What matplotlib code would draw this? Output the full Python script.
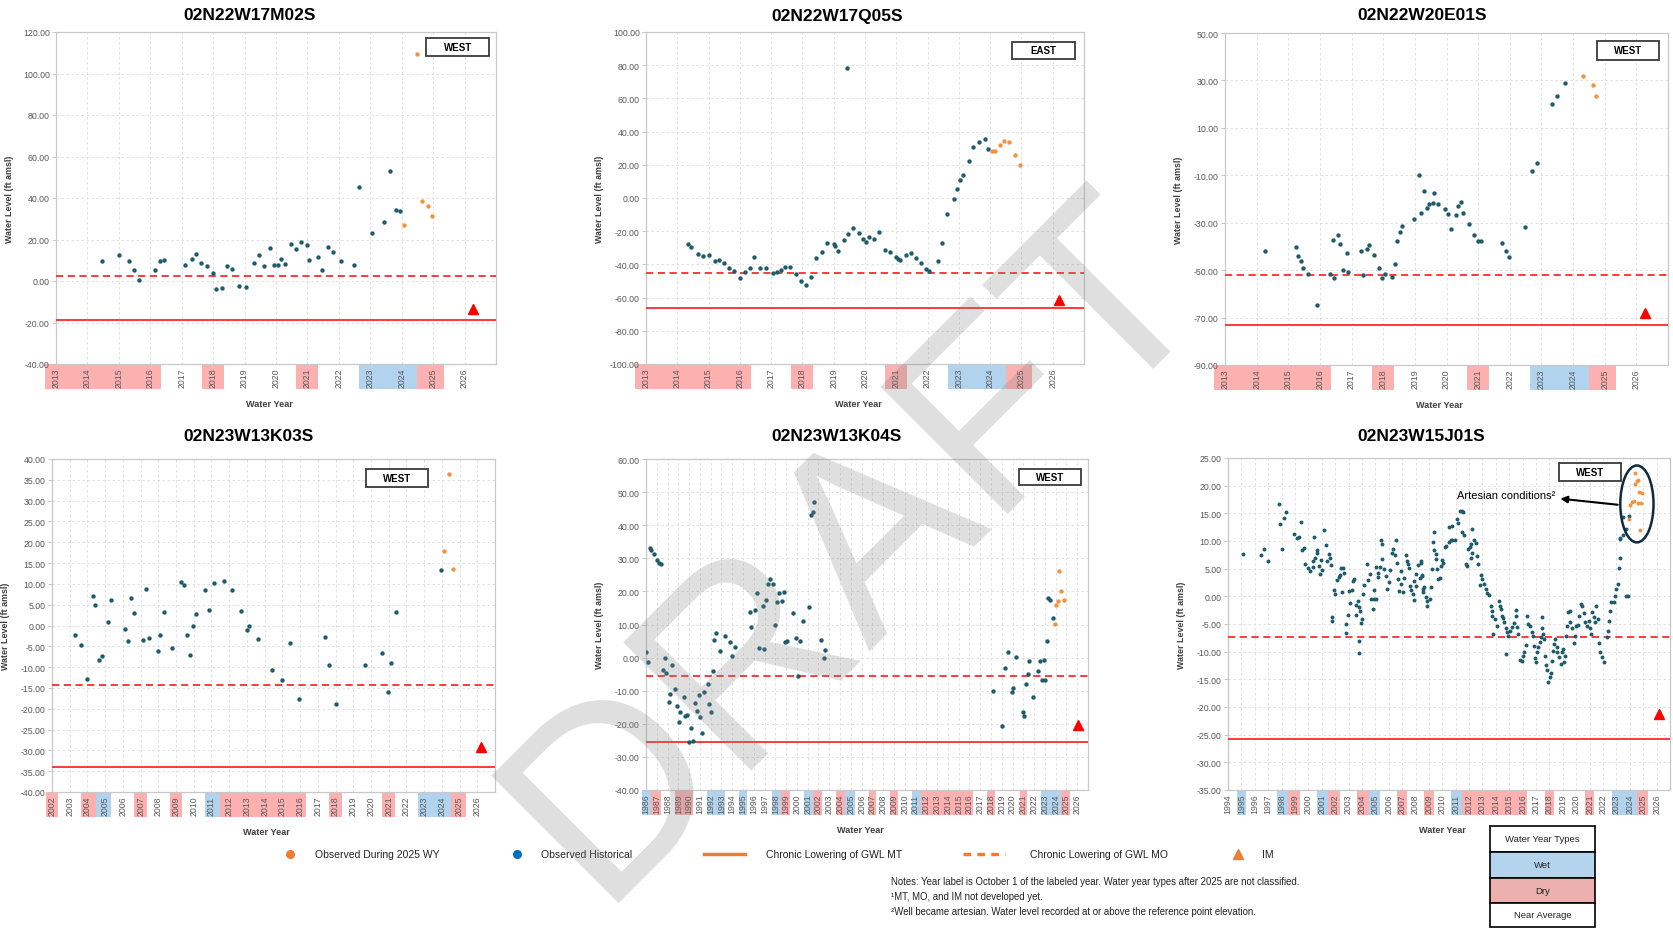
import matplotlib
matplotlib.use('Agg')
import matplotlib.pyplot as plt
from matplotlib.patches import Rectangle, Ellipse
from matplotlib.lines import Line2D
import numpy as np

plt.rcParams['font.family'] = ['Liberation Sans', 'DejaVu Sans']

W, H = 1673, 929

# ---------------- water year types ----------------
wet_years = [1986, 1992, 1993, 1995, 1998, 2001, 2005, 2011, 2023, 2024]
dry_years = [1987, 1989, 1990, 1999, 2002, 2004, 2007, 2009, 2012, 2013, 2014,
             2015, 2016, 2018, 2021, 2025]

# ---------------- 02N22W17M02S ----------------
m02s_hist = [(2014.45, 9.4), (2015.02, 12.5), (2015.33, 9.8), (2015.48, 5.1), (2015.64, 0.3),
             (2016.16, 5.1), (2016.31, 9.4), (2016.45, 10.2), (2017.09, 7.5), (2017.32, 10.7),
             (2017.47, 13.0), (2017.61, 8.5), (2017.80, 7.0), (2017.99, 3.7), (2018.10, -3.7),
             (2018.27, -3.4), (2018.43, 7.2), (2018.60, 5.9), (2018.81, -2.4), (2019.06, -2.9),
             (2019.31, 8.6), (2019.45, 12.3), (2019.63, 7.0), (2019.81, 16.0), (2019.93, 7.5),
             (2020.07, 7.5), (2020.15, 10.4), (2020.28, 8.2), (2020.47, 17.6), (2020.64, 15.5),
             (2020.81, 18.6), (2021.00, 17.3), (2021.05, 10.1), (2021.34, 11.8), (2021.47, 5.4),
             (2021.64, 16.2), (2021.81, 14.1), (2022.07, 9.6), (2022.47, 7.8), (2022.63, 45.3),
             (2023.05, 23.2), (2023.44, 28.6), (2023.64, 53.1), (2023.82, 34.2), (2023.94, 33.6)]
m02s_obs = [(2024.07, 27.0), (2024.48, 109.4), (2024.64, 38.7), (2024.83, 36.3), (2024.97, 31.2)]
m02s_mt, m02s_mo, m02s_im = -18.7, 2.4, (2026.27, -13.6)

# ---------------- 02N22W17Q05S ----------------
q05s_hist = [(2014.33, -27.7), (2014.45, -29.3), (2014.67, -33.5), (2014.82, -35.1), (2015.01, -34.1),
             (2015.19, -38.2), (2015.33, -37.1), (2015.48, -39.0), (2015.64, -42.0), (2015.80, -44.0),
             (2015.99, -48.4), (2016.16, -44.6), (2016.32, -42.2), (2016.44, -35.7), (2016.65, -42.2),
             (2016.83, -42.0), (2017.05, -45.4), (2017.20, -44.6), (2017.30, -43.4), (2017.45, -41.6),
             (2017.61, -41.6), (2017.79, -45.7), (2017.97, -50.1), (2018.10, -52.3), (2018.26, -47.7),
             (2018.42, -36.2), (2018.61, -32.4), (2018.77, -27.0), (2019.00, -27.5), (2019.04, -29.0),
             (2019.13, -32.2), (2019.32, -25.2), (2019.45, -21.9), (2019.44, 78.1), (2019.61, -17.9),
             (2019.82, -20.9), (2019.93, -24.7), (2020.04, -26.8), (2020.14, -23.5), (2020.29, -24.7),
             (2020.46, -20.7), (2020.64, -31.2), (2020.81, -32.4), (2020.99, -35.4), (2021.04, -36.6),
             (2021.11, -37.6), (2021.32, -34.6), (2021.46, -33.0), (2021.63, -36.2), (2021.80, -39.2),
             (2021.96, -42.7), (2022.05, -44.1), (2022.33, -37.8), (2022.46, -27.2), (2022.61, -9.9),
             (2022.84, -0.8), (2022.95, 5.2), (2023.05, 11.1), (2023.14, 14.1), (2023.31, 22.3),
             (2023.45, 30.8), (2023.63, 33.6), (2023.82, 35.8), (2023.94, 29.4)]
q05s_obs = [(2024.05, 28.2), (2024.16, 28.6), (2024.32, 32.0), (2024.45, 34.6), (2024.61, 33.8),
            (2024.81, 26.0), (2024.96, 19.7)]
q05s_mt, q05s_mo, q05s_im = -66.4, -45.2, (2026.2, -61.4)

# ---------------- 02N22W20E01S ----------------
e01s_hist = [(2014.26, -42.0), (2015.24, -40.2), (2015.31, -44.1), (2015.40, -46.1), (2015.48, -48.9),
             (2015.63, -51.8), (2015.90, -64.9), (2016.33, -51.5), (2016.45, -53.2), (2016.41, -37.2),
             (2016.58, -35.3), (2016.65, -38.9), (2016.73, -50.1), (2016.85, -42.8), (2016.89, -50.8),
             (2017.31, -41.9), (2017.36, -52.2), (2017.48, -41.0), (2017.55, -39.6), (2017.71, -43.7),
             (2017.88, -49.0), (2017.97, -53.2), (2018.06, -51.8), (2018.29, -52.9), (2018.36, -47.3),
             (2018.43, -37.8), (2018.52, -34.0), (2018.60, -31.5), (2018.98, -28.5), (2019.13, -10.0),
             (2019.20, -25.7), (2019.30, -16.5), (2019.38, -23.9), (2019.45, -22.1), (2019.58, -21.8),
             (2019.62, -17.6), (2019.73, -21.9), (2019.94, -24.2), (2020.06, -26.3), (2020.14, -32.6),
             (2020.29, -26.8), (2020.36, -22.9), (2020.47, -21.1), (2020.53, -25.7), (2020.71, -30.5),
             (2020.88, -35.1), (2020.99, -37.8), (2021.08, -37.8), (2021.76, -38.5), (2021.87, -42.1),
             (2021.96, -44.5), (2022.47, -31.6), (2022.69, -8.0), (2022.85, -4.7), (2023.32, 20.2),
             (2023.49, 23.5), (2023.75, 28.9)]
e01s_obs = [(2024.31, 31.8), (2024.64, 28.0), (2024.72, 23.4)]
e01s_mt, e01s_mo, e01s_im = -73.0, -52.1, (2026.26, -67.9)

# ---------------- 02N23W13K03S ----------------
k03s_hist = [(2003.31, -2.2), (2003.65, -4.6), (2003.97, -12.8), (2004.31, 7.0), (2004.45, 5.0),
             (2004.64, -8.3), (2004.84, -7.4), (2005.18, 0.8), (2005.32, 6.1), (2006.12, -0.9),
             (2006.31, -3.8), (2006.47, 6.6), (2006.63, 3.0), (2007.15, -3.5), (2007.29, 8.7),
             (2007.45, -3.0), (2007.96, -6.2), (2008.12, -2.4), (2008.30, 3.2), (2008.78, -5.3),
             (2009.28, 10.4), (2009.44, 9.8), (2009.63, -2.4), (2009.81, -7.2), (2009.97, -0.1),
             (2010.11, 2.8), (2010.63, 8.6), (2010.87, 3.8), (2011.13, 10.2), (2011.68, 10.8),
             (2012.16, 8.6), (2012.64, 3.6), (2012.99, -1.1), (2013.13, -0.2), (2013.65, -3.2),
             (2014.41, -10.7), (2015.00, -13.2), (2015.44, -4.1), (2015.92, -17.6), (2017.41, -2.7),
             (2017.61, -9.4), (2018.00, -18.8), (2019.65, -9.4), (2020.63, -6.7), (2020.95, -16.0),
             (2021.11, -9.1), (2021.40, 3.2), (2023.95, 13.4)]
k03s_obs = [(2024.13, 17.8), (2024.39, 36.5), (2024.64, 13.6)]
k03s_mt, k03s_mo, k03s_im = -34.1, -14.4, (2026.2, -29.3)

# ---------------- 02N23W13K04S ----------------
k04s_hist = [(1986.03, 1.8), (1986.20, -1.4), (1986.36, 33.1), (1986.50, 32.5), (1986.73, 31.2),
             (1986.99, 29.4), (1987.19, 28.6), (1987.39, 28.2), (1987.55, -3.7), (1987.72, 0.0),
             (1987.85, -4.8), (1988.11, -13.4), (1988.21, -11.1), (1988.38, -2.1), (1988.67, -9.5),
             (1988.87, -14.7), (1989.04, -19.4), (1989.20, -16.4), (1989.53, -11.8), (1989.66, -17.7),
             (1989.80, -17.2), (1990.03, -25.5), (1990.19, -21.3), (1990.36, -25.3), (1990.52, -13.7),
             (1990.69, -16.2), (1990.88, -11.2), (1991.05, -17.8), (1991.18, -22.8), (1991.38, -10.5),
             (1991.71, -8.0), (1991.84, -13.9), (1992.00, -16.4), (1992.24, -3.9), (1992.34, 5.2),
             (1992.50, 7.5), (1992.83, 2.0), (1993.33, 6.4), (1993.79, 4.7), (1994.02, 0.5),
             (1994.22, 3.2), (1995.67, 13.9), (1995.77, 9.2), (1996.13, 14.4), (1996.33, 19.5),
             (1996.46, 2.8), (1996.86, 15.7), (1996.99, 2.6), (1997.16, 17.5), (1997.32, 22.1),
             (1997.48, 23.7), (1997.81, 22.1), (1997.95, 9.7), (1998.15, 16.8), (1998.31, 19.5),
             (1998.61, 17.2), (1998.77, 19.8), (1998.90, 4.6), (1999.10, 5.1), (1999.66, 13.4),
             (1999.96, 5.8), (2000.13, -5.7), (2000.26, 5.0), (2000.59, 11.2), (2001.12, 15.3),
             (2001.28, 43.1), (2001.45, 44.1), (2001.58, 47.1), (2002.27, 5.3), (2002.47, 0.0),
             (2002.60, 2.2), (2018.18, -10.0), (2019.04, -20.7), (2019.34, -3.0), (2019.54, 1.8),
             (2019.97, -10.5), (2020.07, -9.3), (2020.36, 0.3), (2020.96, -16.4), (2021.02, -17.6),
             (2021.25, -8.0), (2021.39, -4.9), (2021.55, -1.0), (2021.91, -12.0), (2022.34, -4.1),
             (2022.51, -1.1), (2022.77, -6.9), (2022.94, -0.7), (2023.00, -6.7), (2023.23, 5.0),
             (2023.33, 18.1), (2023.52, 17.3), (2023.79, 12.1)]
k04s_obs = [(2023.92, 10.3), (2024.05, 16.0), (2024.21, 17.1), (2024.35, 26.2), (2024.51, 20.1),
            (2024.81, 17.4)]
k04s_mt, k04s_mo, k04s_im = -25.4, -5.7, (2026.1, -20.5)

# ---------------- 02N23W15J01S ----------------
j01s_hist = [(1995.11, 7.6), (1996.47, 7.5), (1996.67, 8.6), (1996.97, 6.4), (1997.79, 16.6),
             (1997.91, 13.1), (1998.01, 8.6), (1998.16, 14.1), (1998.31, 15.3), (1998.93, 11.3),
             (1999.15, 10.6), (1999.33, 10.7), (1999.43, 13.4), (1999.53, 8.3), (1999.65, 8.7),
             (1999.78, 5.8), (1999.95, 5.1), (2000.15, 4.6), (2000.32, 5.3), (2000.35, 6.4),
             (2000.45, 10.7), (2000.50, 7.0), (2000.62, 8.3), (2000.67, 7.9), (2000.80, 5.5),
             (2000.87, 4.0), (2000.92, 6.5), (2001.02, 4.8), (2001.14, 12.0), (2001.34, 9.3),
             (2001.42, 6.4), (2001.51, 7.7), (2001.64, 6.9), (2001.66, 5.7), (2001.94, 1.2),
             (2002.01, 0.4), (2002.14, 3.0), (2002.26, 3.5), (2002.36, 3.9), (2002.43, 5.2),
             (2002.56, 5.2), (2002.66, 4.2), (2001.79, -3.7), (2001.79, -4.5), (2002.48, 0.8),
             (2002.81, -5.0), (2002.81, -6.6), (2002.93, -3.4), (2003.00, 1.0), (2003.13, -1.2),
             (2003.23, 1.2), (2003.33, 2.8), (2003.43, 3.1), (2003.53, -1.6), (2003.58, -3.4),
             (2003.68, -0.8), (2003.78, -2.0), (2003.80, -8.1), (2003.80, -10.2), (2003.87, -2.6),
             (2003.92, -4.8), (2003.99, -4.1), (2004.07, 0.4), (2004.17, 2.1), (2004.37, 5.8),
             (2004.47, 3.0), (2004.57, 4.1), (2004.67, -0.4), (2004.79, -2.2), (2004.87, 1.2),
             (2004.92, -0.4), (2005.02, -0.4), (2005.04, 5.3), (2005.17, 3.5), (2005.22, 4.3),
             (2005.32, 5.3), (2005.42, 10.1), (2005.47, 9.5), (2005.51, 6.7), (2005.66, 4.9),
             (2005.76, 3.6), (2005.84, 1.3), (2005.99, 2.5), (2006.09, 4.8), (2006.26, 7.8),
             (2006.33, 8.6), (2006.46, 7.4), (2006.53, 10.1), (2006.61, 6.0), (2006.71, 3.1),
             (2006.78, 1.0), (2006.90, 4.5), (2006.95, 2.2), (2007.08, 0.7), (2007.15, 3.4),
             (2007.28, 7.5), (2007.35, 6.4), (2007.45, 5.8), (2007.53, 5.2), (2007.60, 1.8),
             (2007.65, 1.1), (2007.80, 0.5), (2007.85, -0.7), (2007.90, 2.8), (2008.00, 4.0),
             (2008.07, 1.9), (2008.22, 5.7), (2008.30, 3.3), (2008.40, 6.3), (2008.45, 3.9),
             (2008.55, 1.4), (2008.59, 0.7), (2008.39, 6.1), (2008.52, 3.7), (2008.64, 1.6),
             (2008.77, -0.2), (2008.89, -0.8), (2008.89, -1.7), (2009.06, -0.4), (2009.19, 1.6),
             (2009.21, 4.9), (2009.31, 9.9), (2009.39, 11.6), (2009.39, 8.3), (2009.51, 7.6),
             (2009.56, 6.7), (2009.64, 4.9), (2009.71, 3.1), (2009.81, 3.4), (2009.88, 5.5),
             (2009.96, 6.6), (2010.06, 6.1), (2010.21, 9.0), (2010.31, 9.1), (2010.51, 9.9),
             (2010.63, 10.1), (2010.75, 10.1), (2010.51, 12.6), (2010.70, 12.8), (2010.93, 10.1),
             (2011.08, 13.9), (2011.20, 13.3), (2011.30, 15.5), (2011.45, 15.5), (2011.55, 15.2),
             (2011.50, 11.6), (2011.62, 11.0), (2011.82, 5.4), (2011.75, 5.8), (2011.95, 8.6),
             (2012.05, 9.0), (2012.12, 9.5), (2012.24, 12.2), (2012.37, 10.1), (2012.49, 9.6),
             (2012.12, 7.0), (2012.19, 7.8), (2012.62, 7.2), (2012.69, 5.8), (2012.87, 3.9),
             (2012.94, 3.1), (2012.79, 2.0), (2013.11, 2.2), (2013.24, 1.4), (2013.36, 0.6),
             (2013.49, 0.2), (2013.61, -1.7), (2013.73, -2.6), (2013.68, -3.5), (2013.78, -6.8),
             (2013.93, -4.1), (2014.11, -5.3), (2014.23, -0.8), (2014.28, -1.8), (2014.36, -2.3),
             (2014.43, -3.5), (2014.53, -4.0), (2014.63, -4.7), (2014.78, -5.8), (2014.85, -6.5),
             (2014.93, -7.1), (2014.78, -10.5), (2015.03, -6.2), (2015.18, -5.6), (2015.35, -4.8),
             (2015.47, -2.4), (2015.52, -3.5), (2015.60, -5.6), (2015.67, -6.8), (2015.77, -11.5),
             (2015.92, -11.6), (2016.02, -10.8), (2016.12, -10.0), (2016.22, -8.8), (2016.34, -3.6),
             (2016.42, -5.0), (2016.52, -5.3), (2016.67, -6.5), (2016.76, -7.1), (2016.84, -8.9),
             (2016.91, -11.2), (2017.01, -11.9), (2017.09, -10.0), (2017.16, -9.2), (2017.26, -8.3),
             (2017.34, -7.4), (2017.41, -3.8), (2017.46, -5.8), (2017.51, -6.8), (2017.58, -7.7),
             (2017.66, -10.7), (2017.76, -12.5), (2017.83, -13.4), (2017.91, -15.5), (2018.01, -14.6),
             (2018.08, -13.9), (2018.21, -11.6), (2018.28, -9.8), (2018.33, -8.6), (2018.45, -7.7),
             (2018.53, -10.0), (2018.60, -9.2), (2018.70, -11.0), (2018.83, -12.2), (2018.90, -10.1),
             (2019.00, -9.5), (2019.07, -11.9), (2019.15, -10.7), (2019.25, -7.1), (2019.32, -5.3),
             (2019.40, -2.9), (2019.50, -2.6), (2019.57, -4.7), (2019.70, -5.8), (2019.82, -8.4),
             (2019.89, -7.1), (2019.99, -5.3), (2020.14, -5.2), (2020.24, -3.5), (2020.32, -1.4),
             (2020.44, -1.7), (2020.57, -3.0), (2020.69, -4.7), (2020.81, -5.3), (2020.94, -4.4),
             (2021.01, -5.8), (2021.11, -6.8), (2021.19, -2.9), (2021.31, -3.8), (2021.43, -4.6),
             (2021.51, -1.7), (2021.61, -4.1), (2021.73, -8.4), (2021.81, -10.1), (2021.93, -11.0),
             (2022.06, -11.8), (2022.30, -7.4), (2022.38, -6.2), (2022.48, -4.4), (2022.55, -2.6),
             (2022.63, -1.1), (2022.80, -1.0), (2022.92, 0.1), (2023.00, 1.3), (2023.10, 2.2),
             (2023.17, 5.2), (2023.25, 7.0), (2023.30, 10.4), (2023.47, 11.1), (2023.72, 0.1),
             (2023.87, 0.1), (2023.30, 10.6), (2023.48, 14.3), (2023.72, 12.2), (2023.97, 14.6)]
j01s_obs = [(2024.42, 22.3), (2024.37, 20.3), (2024.50, 20.9), (2024.58, 21.0), (2024.66, 18.8),
            (2024.90, 18.7), (2024.05, 16.5), (2024.15, 17.1), (2024.31, 17.3), (2024.61, 16.8),
            (2024.85, 16.8), (2023.91, 14.0), (2024.77, 12.0)]
j01s_mt, j01s_mo, j01s_im = -25.8, -7.35, (2026.15, -21.3)

titles = ['02N22W17M02S', '02N22W17Q05S', '02N22W20E01S',
          '02N23W13K03S', '02N23W13K04S', '02N23W15J01S']
regions = ['WEST', 'EAST', 'WEST', 'WEST', 'WEST', 'WEST']

# ---------------- styling ----------------
C_HIST = '#1E5B6B'
C_OBS = '#F5923E'
C_RED = '#FF2B2B'
C_DRY = '#FDB0B0'
C_WET = '#B2D3EE'
C_TXT = '#595959'

fig = plt.figure(figsize=(W / 100, H / 100), dpi=100)


def rect_px(x0, y0, x1, y1):
    return [x0 / W, 1 - y1 / H, (x1 - x0) / W, (y1 - y0) / H]


def draw_panel(box, hist, obs, mt, mo, im, ylim, ystep, x0, title, title_x, title_y,
               region, region_box, msize):
    ax = fig.add_axes(rect_px(*box))
    hx, hy = zip(*hist)
    ox, oy = zip(*obs)
    ax.set_xlim(x0, 2027)
    ax.set_ylim(*ylim)
    years = np.arange(x0, 2027)
    ax.set_xticks(years)
    ax.set_xticklabels([str(y) for y in years], rotation=90, fontsize=6.3, color=C_TXT)
    yt = np.arange(ylim[0], ylim[1] + ystep / 2, ystep)
    ax.set_yticks(yt)
    ax.set_yticklabels(['{:.2f}'.format(v) for v in yt], fontsize=6.3, color=C_TXT)
    ax.tick_params(axis='x', length=0, pad=2.5)
    ax.tick_params(axis='y', length=3, width=0.6, color='#BFBFBF', pad=1.5)
    ax.grid(True, color='#DCDCDC', linestyle=(0, (3, 3)), linewidth=0.6)
    for s in ax.spines.values():
        s.set_color('#C8C8C8')
        s.set_linewidth(0.9)

    # water year type band
    band_h = 25 / (box[3] - box[1])
    trans = ax.get_xaxis_transform()
    for y in years:
        if y > 2025:
            continue
        col = C_WET if y in wet_years else (C_DRY if y in dry_years else None)
        if col is None:
            continue
        prev_c = (y - 1) in wet_years or (y - 1) in dry_years
        next_c = ((y + 1) in wet_years or (y + 1) in dry_years) and y + 1 <= 2025
        left = y - 0.5 + (0 if prev_c and y > x0 else 0.15)
        right = y + 0.5 - (0 if next_c else 0.15)
        ax.add_patch(Rectangle((left, -band_h), right - left, band_h, transform=trans,
                               facecolor=col, edgecolor='none', clip_on=False, zorder=1))

    ax.axhline(mo, color=C_RED, lw=1.3, ls=(0, (4, 2.5)), zorder=2.6)
    ax.axhline(mt, color=C_RED, lw=1.3, zorder=2.6)
    ax.scatter(hx, hy, s=msize, color=C_HIST, zorder=3, linewidths=0)
    ax.scatter(ox, oy, s=msize, color=C_OBS, zorder=3, linewidths=0)
    ax.plot([im[0]], [im[1]], marker='^', color='#FF0000', markersize=7.5, zorder=4,
            linestyle='none')

    ax.set_ylabel('Water Level (ft amsl)', fontsize=6.4, fontweight='bold', color='#404040')
    ax.yaxis.set_label_coords(-0.095, 0.5)
    ax.set_xlabel('Water Year', fontsize=6.6, fontweight='bold', color='#404040')
    ax.xaxis.set_label_coords(0.485, -0.105)

    rx0, ry0, rx1, ry1 = region_box
    ax.add_patch(Rectangle((rx0, ry0), rx1 - rx0, ry1 - ry0, transform=ax.transAxes,
                           facecolor='white', edgecolor='#3A3A3A', lw=1.3, zorder=5))
    ax.text((rx0 + rx1) / 2, (ry0 + ry1) / 2, region, transform=ax.transAxes,
            ha='center', va='center', fontsize=7, fontweight='bold', zorder=6)

    fig.text(title_x / W, 1 - title_y / H, title, ha='center', va='center',
             fontsize=12.5, fontweight='bold')
    return ax


draw_panel((56, 33, 496, 365), m02s_hist, m02s_obs, m02s_mt, m02s_mo, m02s_im,
           (-40, 120), 20, 2013, titles[0], 250, 16, regions[0], (0.842, 0.928, 0.985, 0.982), 10)
draw_panel((646, 33, 1084, 365), q05s_hist, q05s_obs, q05s_mt, q05s_mo, q05s_im,
           (-100, 100), 20, 2013, titles[1], 837, 16, regions[1], (0.836, 0.92, 0.98, 0.97), 10)
draw_panel((1225, 34, 1668, 366), e01s_hist, e01s_obs, e01s_mt, e01s_mo, e01s_im,
           (-90, 50), 20, 2013, titles[2], 1422, 16, regions[2], (0.839, 0.92, 0.98, 0.975), 10)
draw_panel((52, 460, 495, 793), k03s_hist, k03s_obs, k03s_mt, k03s_mo, k03s_im,
           (-40, 40), 5, 2002, titles[3], 248, 437, regions[3], (0.709, 0.916, 0.849, 0.97), 10)
draw_panel((646, 460, 1088, 791), k04s_hist, k04s_obs, k04s_mt, k04s_mo, k04s_im,
           (-40, 60), 10, 1986, titles[4], 836, 437, regions[4], (0.843, 0.92, 0.985, 0.97), 10)
ax6 = draw_panel((1228, 459, 1670, 791), j01s_hist, j01s_obs, j01s_mt, j01s_mo, j01s_im,
                 (-35, 25), 5, 1994, titles[5], 1421, 437, regions[5], (0.749, 0.93, 0.89, 0.985), 8)

# artesian annotation
ax6.add_patch(Ellipse((2024.53, 16.7), 2.48, 13.9, facecolor='none', edgecolor='#0F2A3F',
                      lw=1.8, zorder=6, clip_on=False))
ax6.annotate('', xy=(2018.6, 17.7), xytext=(2023.3, 16.5),
             arrowprops=dict(arrowstyle='-|>', color='black', lw=1.5, mutation_scale=10),
             zorder=6)
ax6.text(2018.45, 18.3, 'Artesian conditions²', ha='right', va='center', fontsize=8, zorder=6)

# ---------------- bottom legend ----------------
ly = 1 - 855 / H
C_LEG = '#ED7D31'
fig.add_artist(Line2D([290 / W], [ly], marker='o', color=C_LEG, markersize=5.5, linestyle='none'))
fig.text(315 / W, ly, 'Observed During 2025 WY', va='center', fontsize=7.5, color='#222222')
fig.add_artist(Line2D([517 / W], [ly], marker='o', color='#0070C0', markersize=5.5, linestyle='none'))
fig.text(541 / W, ly, 'Observed Historical', va='center', fontsize=7.5, color='#222222')
fig.add_artist(Line2D([704 / W, 745 / W], [ly, ly], color=C_LEG, lw=2.5))
fig.text(766 / W, ly, 'Chronic Lowering of GWL MT', va='center', fontsize=7.5, color='#222222')
fig.add_artist(Line2D([963 / W, 1005 / W], [ly, ly], color=C_LEG, lw=2.5, linestyle=(0, (2.2, 1.8))))
fig.text(1030 / W, ly, 'Chronic Lowering of GWL MO', va='center', fontsize=7.5, color='#222222')
fig.add_artist(Line2D([1238 / W], [ly], marker='^', color=C_LEG, markersize=6.5, linestyle='none'))
fig.text(1262 / W, ly, 'IM', va='center', fontsize=7.5, color='#222222')

notes = ['Notes: Year label is October 1 of the labeled year. Water year types after 2025 are not classified.',
         '¹MT, MO, and IM not developed yet.',
         '²Well became artesian. Water level recorded at or above the reference point elevation.']
for i, t in enumerate(notes):
    fig.text(891 / W, 1 - (882 + 15 * i) / H, t, va='center', fontsize=6.9, color='#222222')

# water year types table
table_rows = [('Water Year Types', 'white'), ('Wet', '#B4D3EC'), ('Dry', '#ECB0AE'),
              ('Near Average', 'white')]
ty = [827, 853, 879, 904, 928]
for i, (lab, col) in enumerate(table_rows):
    r = Rectangle((1490 / W, 1 - ty[i + 1] / H), 105 / W, (ty[i + 1] - ty[i]) / H,
                  transform=fig.transFigure, facecolor=col, edgecolor='black', lw=1.2)
    fig.add_artist(r)
    fig.text(1542.5 / W, 1 - (ty[i] + ty[i + 1]) / 2 / H, lab, ha='center', va='center',
             fontsize=6.8, color='#222222')

# DRAFT watermark (anchored at the baseline start of the first letter)
fig.text(597 / W, 1 - 903 / H, 'DRAFT', rotation=45, ha='left', va='baseline', fontsize=188,
         color='#808080', alpha=0.25, zorder=20, rotation_mode='anchor')

fig.savefig('out.png', dpi=100)
